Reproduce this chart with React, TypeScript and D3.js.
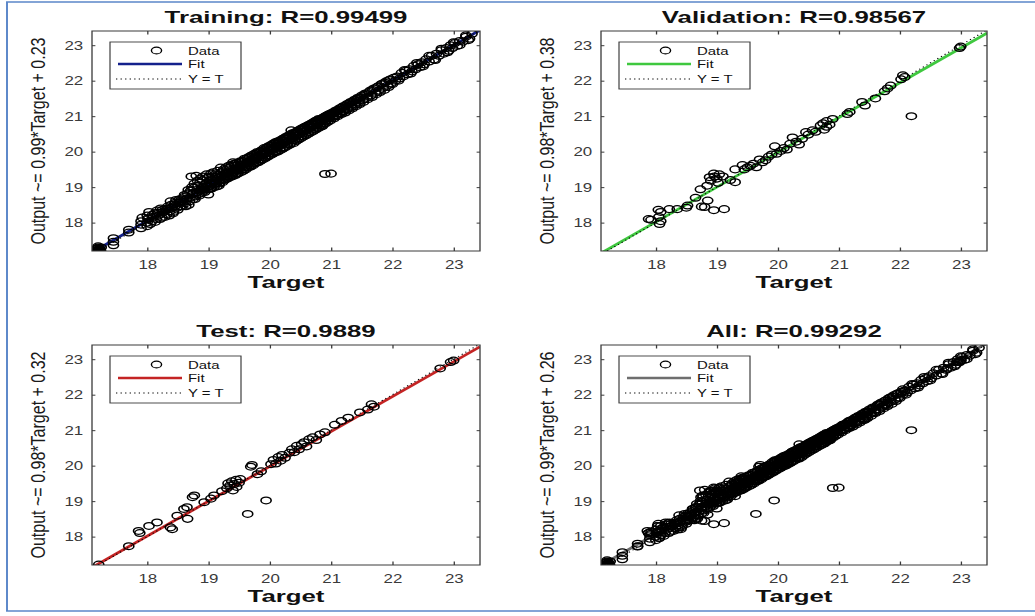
import React, { useEffect, useRef } from "react";
import * as d3 from "d3";

// panel texts and fit parameters
const panelTitles = ["Training: R=0.99499", "Validation: R=0.98567", "Test: R=0.9889", "All: R=0.99292"];
const fitSlopes = [0.99, 0.98, 0.983, 0.99];
const fitIntercepts = [0.23, 0.38, 0.32, 0.26];
const fitColors = ["#14218c", "#3fc83f", "#c42424", "#6e6e6e"];
const axisTicks = [18, 19, 20, 21, 22, 23];
const legendLabels = ["Data", "Fit", "Y = T"];

// [target, output]
const trainingData: [number, number][] = [
  [17.2, 17.2], [17.2, 17.24], [17.21, 17.18], [17.19, 17.27], [17.2, 17.3], [17.22, 17.22], [17.18, 17.21], [17.2, 17.15], [17.23, 17.26],
  [17.17, 17.19], [17.24, 17.2], [17.2, 17.33], [17.16, 17.25], [17.25, 17.3],
  [17.45, 17.36], [17.45, 17.46], [17.45, 17.56], [17.7, 17.72], [17.7, 17.8],
  [17.9, 17.84], [17.9, 17.94], [17.9, 18.04], [17.92, 18.14], [18.0, 17.9], [18.0, 18.0], [18.02, 18.1], [18.0, 18.2], [18.03, 18.3],
  [18.08, 18.04], [18.1, 18.16], [18.12, 18.26], [18.15, 18.1], [18.16, 18.34], [18.2, 18.22], [18.22, 18.4], [18.24, 18.14], [18.26, 18.3],
  [18.3, 18.38], [18.32, 18.24], [18.34, 18.46], [18.37, 18.32], [18.38, 18.6], [18.4, 18.42], [18.43, 18.3], [18.45, 18.52], [18.47, 18.64], [18.49, 18.42],
  [18.52, 18.56], [18.54, 18.46], [18.56, 18.66], [18.58, 18.58], [18.6, 18.72], [18.62, 18.54], [18.64, 18.66], [18.66, 18.82], [18.68, 18.5],
  [18.7, 18.7], [18.71, 18.9], [18.72, 19.3], [18.74, 18.8], [18.76, 18.98], [18.78, 18.66], [18.8, 19.32], [18.81, 18.86], [18.83, 19.04],
  [18.85, 18.76], [18.86, 19.12], [18.88, 18.92], [18.9, 19.2], [18.92, 19.0], [18.94, 18.86], [18.96, 19.1], [18.98, 19.26],
  [19.0, 19.02], [19.0, 18.79], [19.02, 19.14], [19.04, 19.38], [19.05, 18.96], [19.07, 19.2], [19.08, 19.42], [19.1, 19.08], [19.12, 19.28],
  [19.14, 19.02], [19.16, 19.34], [19.17, 19.04], [19.19, 19.18], [19.2, 19.55], [19.22, 19.3], [19.24, 19.44], [19.26, 19.2], [19.28, 19.38],
  [19.3, 19.5], [19.32, 19.3], [19.34, 19.42], [19.36, 19.56], [19.38, 19.34], [19.4, 19.7], [19.41, 19.46], [19.43, 19.6], [19.45, 19.38],
  [19.47, 19.52], [19.49, 19.64],
  [19.5, 19.46], [19.52, 19.58], [19.54, 19.7], [19.56, 19.5], [19.58, 19.64], [19.6, 19.76], [19.62, 19.56], [19.64, 19.7], [19.66, 19.82],
  [19.68, 19.62], [19.7, 19.74], [19.72, 19.86], [19.74, 19.66], [19.76, 19.8], [19.78, 19.92], [19.8, 19.72], [19.82, 19.86], [19.84, 19.98],
  [19.86, 19.78], [19.88, 19.92], [19.9, 20.04], [19.92, 19.84], [19.94, 19.98], [19.96, 20.1], [19.98, 19.9],
  [20.0, 20.04], [20.02, 20.16], [20.04, 19.96], [20.06, 20.1], [20.08, 20.22], [20.1, 20.02], [20.12, 20.14], [20.14, 20.26], [20.16, 20.08],
  [20.18, 20.2], [20.2, 20.32], [20.22, 20.12], [20.24, 20.26], [20.26, 20.38], [20.28, 20.2], [20.3, 20.3], [20.32, 20.44], [20.34, 20.24],
  [20.35, 20.6], [20.36, 20.38], [20.38, 20.5], [20.4, 20.32], [20.42, 20.44], [20.44, 20.56], [20.46, 20.38], [20.48, 20.5],
  [20.5, 20.62], [20.52, 20.44], [20.54, 20.56], [20.56, 20.68], [20.58, 20.5], [20.6, 20.62], [20.62, 20.74], [20.64, 20.56], [20.66, 20.68],
  [20.68, 20.8], [20.7, 20.62], [20.72, 20.74], [20.74, 20.86], [20.76, 20.68], [20.78, 20.8], [20.8, 20.92], [20.82, 20.74], [20.84, 20.86],
  [20.86, 20.72], [20.88, 20.96], [20.9, 19.37], [20.9, 20.84], [20.92, 21.0], [20.94, 20.9], [20.96, 21.04], [20.98, 20.94],
  [21.0, 19.38], [21.0, 21.06], [21.03, 20.98], [21.06, 21.12], [21.09, 21.02], [21.12, 21.18], [21.15, 21.08], [21.18, 21.24], [21.21, 21.14],
  [21.24, 21.3], [21.27, 21.2], [21.3, 21.36], [21.33, 21.26], [21.36, 21.42], [21.39, 21.32], [21.42, 21.48], [21.45, 21.38], [21.48, 21.52],
  [21.52, 21.46], [21.55, 21.6], [21.58, 21.52], [21.62, 21.68], [21.65, 21.58], [21.68, 21.74], [21.72, 21.66], [21.75, 21.82], [21.78, 21.72],
  [21.82, 21.9], [21.85, 21.8], [21.88, 21.94], [21.92, 21.86], [21.95, 22.02], [21.98, 21.92], [22.02, 22.08], [22.05, 22.0], [22.08, 22.12],
  [22.12, 22.06], [22.15, 22.22], [22.18, 22.12], [22.22, 22.28], [22.25, 22.18], [22.28, 22.32], [22.32, 22.26], [22.35, 22.42], [22.38, 22.32],
  [22.42, 22.46], [22.45, 22.38], [22.48, 22.52],
  [22.52, 22.46], [22.55, 22.6], [22.6, 22.54], [22.64, 22.7], [22.68, 22.6], [22.72, 22.76], [22.76, 22.7], [22.8, 22.86], [22.84, 22.76],
  [22.88, 22.92], [22.92, 22.84], [22.95, 23.0], [22.98, 22.92], [23.02, 23.06], [23.06, 22.98], [23.1, 23.12], [23.15, 23.1], [23.2, 23.24],
  [23.26, 23.18], [23.3, 23.32],
  // outer edges of the dense band
  [18.01, 18.12], [18.05, 17.96], [18.09, 18.22], [18.13, 18.02], [18.17, 18.28], [18.21, 18.1], [18.25, 18.36], [18.29, 18.16], [18.33, 18.4],
  [18.36, 18.2], [18.39, 18.5], [18.42, 18.26], [18.46, 18.56], [18.5, 18.36], [18.53, 18.66], [18.57, 18.46], [18.61, 18.78], [18.63, 18.46],
  [18.67, 18.92], [18.69, 18.6], [18.73, 19.0], [18.75, 18.66], [18.77, 19.1], [18.79, 18.74], [18.82, 19.18], [18.84, 18.8], [18.87, 19.24],
  [18.89, 18.84], [18.91, 19.3], [18.93, 18.9], [18.97, 19.36], [18.99, 18.94], [19.01, 19.3], [19.03, 18.96], [19.06, 19.3], [19.09, 19.0],
  [19.11, 19.36], [19.13, 19.1], [19.15, 19.46], [19.18, 19.1], [19.21, 19.42], [19.23, 19.14], [19.25, 19.5], [19.27, 19.22], [19.29, 19.56],
  [19.31, 19.24], [19.33, 19.6], [19.35, 19.28], [19.37, 19.62], [19.39, 19.3], [19.42, 19.66], [19.44, 19.34], [19.46, 19.68], [19.48, 19.38],
  [19.51, 19.72], [19.53, 19.42], [19.55, 19.74], [19.57, 19.46], [19.59, 19.8], [19.61, 19.5], [19.63, 19.82], [19.65, 19.56], [19.67, 19.86],
  [19.69, 19.58], [19.71, 19.9], [19.73, 19.62], [19.75, 19.94], [19.77, 19.68], [19.79, 19.98], [19.81, 19.7], [19.83, 20.0], [19.85, 19.74],
  [19.87, 20.04], [19.89, 19.78], [19.91, 20.1], [19.93, 19.82], [19.95, 20.12], [19.97, 19.86], [19.99, 20.16], [20.01, 19.9], [20.03, 20.2],
  [20.05, 19.94], [20.07, 20.24], [20.09, 19.98], [20.11, 20.28], [20.13, 20.0], [20.15, 20.3], [20.17, 20.04], [20.19, 20.34], [20.21, 20.08],
  [20.23, 20.38], [20.25, 20.12], [20.27, 20.42], [20.29, 20.16], [20.31, 20.46], [20.33, 20.2], [20.37, 20.52], [20.39, 20.24], [20.41, 20.54],
  [20.43, 20.3], [20.45, 20.58], [20.47, 20.34], [20.49, 20.62], [20.51, 20.38], [20.53, 20.66], [20.55, 20.42], [20.57, 20.7], [20.59, 20.46],
  [20.61, 20.72], [20.63, 20.5], [20.65, 20.76], [20.67, 20.54], [20.69, 20.8], [20.71, 20.58], [20.73, 20.84], [20.75, 20.62], [20.77, 20.88],
  [20.79, 20.66], [20.81, 20.9], [20.83, 20.7], [20.85, 20.94], [20.87, 20.76], [20.89, 20.98], [20.91, 20.8], [20.93, 21.02], [20.95, 20.84],
  [20.97, 21.06], [20.99, 20.88], [21.02, 21.1], [21.05, 20.94], [21.08, 21.16], [21.11, 21.0], [21.14, 21.22], [21.17, 21.06], [21.2, 21.28],
  [21.23, 21.1], [21.26, 21.34], [21.29, 21.16], [21.32, 21.4], [21.35, 21.22], [21.38, 21.46], [21.41, 21.28], [21.44, 21.52], [21.47, 21.34],
  [21.5, 21.58], [21.53, 21.4], [21.56, 21.64], [21.6, 21.48], [21.64, 21.72], [21.67, 21.54], [21.7, 21.78], [21.74, 21.62], [21.77, 21.84],
  [21.8, 21.68], [21.84, 21.92], [21.87, 21.74], [21.9, 21.98], [21.94, 21.82], [21.97, 22.04], [22.0, 21.9],
  [22.1, 22.0], [22.2, 22.3], [22.3, 22.2], [22.4, 22.5], [22.5, 22.4], [22.6, 22.7], [22.7, 22.58], [22.8, 22.9], [22.9, 22.8],
  [23.0, 23.08], [23.1, 23.0], [23.2, 23.28], [23.24, 23.14],
  // core of the band
  [18.25, 18.28], [18.35, 18.38], [18.45, 18.46], [18.55, 18.6], [18.65, 18.68], [18.75, 18.84], [18.85, 18.9],
  [18.905, 18.97], [18.935, 18.93], [18.965, 19.04], [18.995, 19.0], [19.025, 19.1], [19.055, 19.06], [19.085, 19.16], [19.115, 19.12],
  [19.145, 19.22], [19.175, 19.18], [19.205, 19.28], [19.235, 19.24], [19.265, 19.34], [19.295, 19.3], [19.325, 19.4], [19.355, 19.36],
  [19.385, 19.46], [19.415, 19.42], [19.445, 19.52], [19.475, 19.48], [19.505, 19.58], [19.535, 19.54], [19.565, 19.64], [19.595, 19.6],
  [19.625, 19.7], [19.655, 19.66], [19.685, 19.76], [19.715, 19.72], [19.745, 19.82], [19.775, 19.78], [19.805, 19.88], [19.835, 19.84],
  [19.865, 19.94], [19.895, 19.9], [19.925, 20.0], [19.955, 19.96], [19.985, 20.06], [20.015, 20.02], [20.045, 20.12], [20.075, 20.08],
  [20.105, 20.18], [20.135, 20.14], [20.165, 20.24], [20.195, 20.2], [20.225, 20.3], [20.255, 20.26], [20.285, 20.36], [20.315, 20.32],
  [20.345, 20.42], [20.375, 20.38], [20.405, 20.48], [20.435, 20.44], [20.465, 20.54], [20.495, 20.5], [20.525, 20.6], [20.555, 20.56],
  [20.585, 20.66], [20.615, 20.62], [20.645, 20.72], [20.675, 20.68], [20.705, 20.78], [20.735, 20.74], [20.765, 20.84], [20.795, 20.8],
  [20.825, 20.9], [20.855, 20.86], [20.885, 20.94], [20.915, 20.92], [20.945, 21.0], [20.975, 20.96], [21.005, 21.06], [21.035, 21.02],
  [21.065, 21.12], [21.095, 21.08], [21.125, 21.18], [21.155, 21.14], [21.185, 21.24], [21.215, 21.2], [21.245, 21.3], [21.275, 21.26],
  [21.305, 21.36], [21.335, 21.32], [21.365, 21.42], [21.395, 21.38], [21.425, 21.48], [21.455, 21.44], [21.485, 21.54],
];

const validationData: [number, number][] = [
  [17.88, 18.1], [17.92, 18.08], [18.05, 18.16], [18.06, 17.96], [18.08, 18.04], [18.04, 18.36], [18.08, 18.3],
  [18.22, 18.38], [18.35, 18.38], [18.5, 18.42], [18.52, 18.48],
  [18.65, 18.7], [18.73, 18.94], [18.75, 18.45], [18.85, 18.62], [18.8, 18.44], [18.95, 18.35], [19.12, 18.38],
  [18.84, 19.04], [18.9, 19.18], [18.88, 19.28], [18.95, 19.38], [19.0, 19.24], [19.04, 19.36], [18.96, 19.3], [19.1, 19.3], [19.02, 19.12],
  [19.3, 19.14], [19.22, 19.2],
  [19.3, 19.5], [19.42, 19.62], [19.45, 19.5], [19.5, 19.56], [19.55, 19.6], [19.6, 19.66], [19.65, 19.56], [19.7, 19.78], [19.75, 19.7],
  [19.8, 19.76], [19.85, 19.86], [19.9, 19.92], [19.95, 20.15], [19.98, 19.94],
  [20.05, 20.02], [20.1, 20.1], [20.15, 20.06], [20.2, 20.22], [20.24, 20.4], [20.3, 20.28], [20.35, 20.2], [20.4, 20.36], [20.46, 20.55],
  [20.5, 20.48], [20.57, 20.6], [20.62, 20.56],
  [20.7, 20.74], [20.74, 20.8], [20.76, 20.62], [20.8, 20.7], [20.8, 20.86], [20.85, 20.76], [20.9, 20.92],
  [21.14, 21.06], [21.18, 21.12], [21.38, 21.4], [21.43, 21.3], [21.6, 21.5], [21.75, 21.7], [21.8, 21.78], [21.85, 21.86],
  [22.02, 22.04], [22.05, 22.15], [22.08, 22.1], [22.19, 21.0], [22.98, 22.92], [23.0, 22.96],
];

const testData: [number, number][] = [
  [17.21, 17.21], [17.7, 17.73], [17.86, 18.16], [17.88, 18.1], [18.03, 18.3], [18.16, 18.4], [18.38, 18.26], [18.41, 18.21],
  [18.49, 18.59], [18.66, 18.5], [18.6, 18.78], [18.65, 18.83], [18.74, 19.11], [18.77, 19.16], [18.93, 18.97], [19.04, 19.07], [19.09, 19.16],
  [19.22, 19.28], [19.3, 19.36], [19.32, 19.5], [19.35, 19.44], [19.38, 19.56], [19.4, 19.3], [19.42, 19.48], [19.45, 19.6], [19.46, 19.4],
  [19.5, 19.52], [19.52, 19.62],
  [19.64, 18.64], [19.94, 19.02], [19.69, 19.97], [19.71, 20.02], [19.8, 19.76], [19.86, 19.84],
  [20.02, 20.04], [20.06, 20.16], [20.1, 20.06], [20.14, 20.24], [20.18, 20.14], [20.2, 20.3], [20.25, 20.22],
  [20.32, 20.36], [20.36, 20.46], [20.4, 20.38], [20.44, 20.56], [20.48, 20.46], [20.52, 20.6], [20.56, 20.66], [20.6, 20.54],
  [20.64, 20.74], [20.7, 20.8], [20.76, 20.72], [20.82, 20.88], [20.9, 20.94],
  [21.06, 21.15], [21.17, 21.26], [21.28, 21.35], [21.47, 21.5], [21.6, 21.58], [21.66, 21.73], [21.7, 21.66],
  [22.78, 22.74], [22.95, 22.92], [23.0, 22.96],
];

const allData = [...trainingData, ...validationData, ...testData];
const datasets = [trainingData, validationData, testData, allData];

// the picture is stretched sideways, so the svg is too
const SX = 1.3;
const W = 1035;
const H = 616;
const panels = [
  { l: 92, r: 480, t: 31, b: 251 },
  { l: 601, r: 987, t: 31, b: 251 },
  { l: 92, r: 480, t: 345, b: 565 },
  { l: 601, r: 987, t: 345, b: 565 },
];
const FONT = "'Liberation Sans', Arial, sans-serif";

const App = () => {
  const ref = useRef<SVGSVGElement>(null);

  useEffect(() => {
    const svg = d3.select(ref.current);
    svg.selectAll("*").remove();

    svg
      .append("path")
      .attr("d", `M${1040 / SX},2 H${7 / SX} V611 H${1040 / SX}`)
      .attr("fill", "none")
      .attr("stroke", "#5b87c9")
      .attr("stroke-width", 1.5);

    datasets.forEach((data, i) => {
      const p = panels[i];
      const L = p.l / SX;
      const R = p.r / SX;
      const x = d3.scaleLinear().domain([17.1, 23.43]).range([L, R]);
      const y = d3.scaleLinear().domain([17.2, 23.4]).range([p.b, p.t]);
      const g = svg.append("g").style("font-family", FONT);

      const clipId = `clip${i}`;
      g.append("clipPath")
        .attr("id", clipId)
        .append("rect")
        .attr("x", L)
        .attr("y", p.t)
        .attr("width", R - L)
        .attr("height", p.b - p.t);

      const plot = g.append("g").attr("clip-path", `url(#${clipId})`);
      const line = d3
        .line<number>()
        .x((d) => x(d))
        .y((d) => y(fitSlopes[i] * d + fitIntercepts[i]));

      plot
        .append("path")
        .attr("d", line(x.domain()))
        .attr("stroke", fitColors[i])
        .attr("stroke-width", 2.6)
        .attr("fill", "none");

      plot
        .append("line")
        .attr("x1", x(17.2))
        .attr("y1", y(17.2))
        .attr("x2", x(23.43))
        .attr("y2", y(23.43))
        .attr("stroke", "#000")
        .attr("stroke-dasharray", "1,2.5");

      plot
        .selectAll("ellipse")
        .data(data)
        .enter()
        .append("ellipse")
        .attr("cx", (d) => x(d[0]))
        .attr("cy", (d) => y(d[1]))
        .attr("rx", 3.9)
        .attr("ry", 3.4)
        .attr("fill", "none")
        .attr("stroke", "#000")
        .attr("stroke-width", 1.25);

      // axes with inward ticks
      const fmt = d3.format("d");
      const xb = g
        .append("g")
        .attr("transform", `translate(0,${p.b})`)
        .call(d3.axisBottom(x).tickValues(axisTicks).tickFormat(fmt).tickSizeInner(-3.5).tickSizeOuter(0).tickPadding(9));
      const yl = g
        .append("g")
        .attr("transform", `translate(${L},0)`)
        .call(d3.axisLeft(y).tickValues(axisTicks).tickFormat(fmt).tickSizeInner(-2.6).tickSizeOuter(0).tickPadding(6.8));
      g.append("g")
        .attr("transform", `translate(0,${p.t})`)
        .call(d3.axisTop(x).tickValues(axisTicks).tickSizeInner(-3.5).tickSizeOuter(0).tickFormat(() => ""));
      g.append("g")
        .attr("transform", `translate(${R},0)`)
        .call(d3.axisRight(y).tickValues(axisTicks).tickSizeInner(-2.6).tickSizeOuter(0).tickFormat(() => ""));
      g.selectAll(".domain").remove();
      g.selectAll(".tick line").attr("stroke", "#3a3a3a");
      [xb, yl].forEach((a) =>
        a.selectAll("text").attr("font-size", 13).attr("fill", "#3a3a3a").style("font-family", FONT)
      );

      g.append("rect")
        .attr("x", L)
        .attr("y", p.t)
        .attr("width", R - L)
        .attr("height", p.b - p.t)
        .attr("fill", "none")
        .attr("stroke", "#3a3a3a")
        .attr("stroke-width", 1);

      const cx = (L + R) / 2;
      g.append("text")
        .attr("transform", `translate(${cx},${p.t - 8}) scale(1.24,1)`)
        .attr("text-anchor", "middle")
        .attr("font-weight", "bold")
        .attr("font-size", 16)
        .attr("fill", "#111")
        .text(panelTitles[i]);

      g.append("text")
        .attr("transform", `translate(${cx},${p.b + 37}) scale(1.24,1)`)
        .attr("text-anchor", "middle")
        .attr("font-weight", "bold")
        .attr("font-size", 16)
        .attr("fill", "#111")
        .text("Target");

      g.append("text")
        .attr("transform", `translate(${(p.l - 47) / SX},${(p.t + p.b) / 2}) rotate(-90)`)
        .attr("text-anchor", "middle")
        .attr("font-size", 16)
        .attr("fill", "#1a1a1a")
        .attr("textLength", 207)
        .attr("lengthAdjust", "spacingAndGlyphs")
        .text(`Output ~= ${d3.format(".2f")(fitSlopes[i])}*Target + ${d3.format(".2f")(fitIntercepts[i])}`);

      // legend
      const lg = g.append("g");
      lg.append("rect")
        .attr("x", (p.l + 18) / SX)
        .attr("y", p.t + 11)
        .attr("width", 131 / SX)
        .attr("height", 47)
        .attr("fill", "#fff")
        .attr("stroke", "#3a3a3a")
        .attr("stroke-width", 0.9);
      const rowY = [p.t + 19.5, p.t + 33, p.t + 48];
      lg.append("ellipse")
        .attr("cx", (p.l + 64.5) / SX)
        .attr("cy", rowY[0])
        .attr("rx", 3.9)
        .attr("ry", 3.4)
        .attr("fill", "none")
        .attr("stroke", "#000")
        .attr("stroke-width", 1.1);
      lg.append("line")
        .attr("x1", (p.l + 26) / SX)
        .attr("x2", (p.l + 90) / SX)
        .attr("y1", rowY[1])
        .attr("y2", rowY[1])
        .attr("stroke", fitColors[i])
        .attr("stroke-width", 2.6);
      lg.append("line")
        .attr("x1", (p.l + 24) / SX)
        .attr("x2", (p.l + 90) / SX)
        .attr("y1", rowY[2])
        .attr("y2", rowY[2])
        .attr("stroke", "#000")
        .attr("stroke-dasharray", "1,2.5");
      lg.selectAll("text.lab")
        .data(legendLabels)
        .enter()
        .append("text")
        .attr("class", "lab")
        .attr("x", (p.l + 96) / SX)
        .attr("y", (d, k) => rowY[k])
        .attr("dy", "0.36em")
        .attr("font-size", 11.5)
        .attr("fill", "#111")
        .text((d) => d);
    });
  }, []);

  return (
    <svg
      ref={ref}
      width={W}
      height={H}
      viewBox={`0 0 ${W / SX} ${H}`}
      preserveAspectRatio="none"
      style={{ position: "absolute", left: 0, top: 0, background: "#fff" }}
    />
  );
};

export default App;
